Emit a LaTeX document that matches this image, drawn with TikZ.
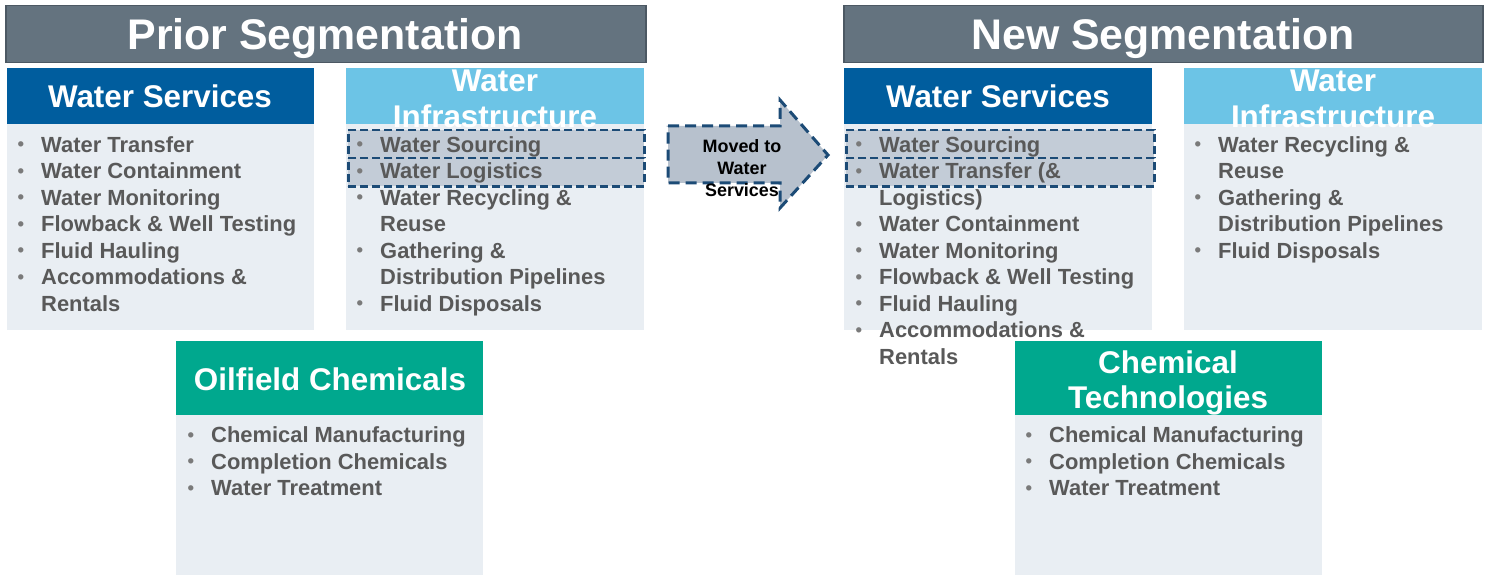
\documentclass[tikz,border=0pt]{standalone}
\usepackage{fontspec}
\setmainfont{Liberation Sans}
\usepackage{graphicx}
\usepackage{tikz}

\definecolor{segGray}{HTML}{64737F}
\definecolor{segEdge}{HTML}{4C5863}
\definecolor{wsBlue}{HTML}{005D9E}
\definecolor{wiBlue}{HTML}{6CC4E6}
\definecolor{chemTeal}{HTML}{00A88E}
\definecolor{bodyGray}{HTML}{E9EEF3}
\definecolor{itemGray}{HTML}{595959}
\definecolor{bulletGray}{HTML}{7A7A7A}
\definecolor{moveFill}{HTML}{C3CCD7}
\definecolor{arrowFill}{HTML}{B7C1CD}
\definecolor{moveEdge}{HTML}{1C4B76}

\newcommand{\segitem}{\makebox[24bp][l]{\hspace*{0.5bp}\textcolor{bulletGray}{\raisebox{1.2bp}{\scalebox{0.85}{•}}}}}
\newcommand{\segcont}{\hspace*{24bp}}

\begin{document}
\begin{tikzpicture}[x=1bp,y=-1bp,
  seg/.style={draw=segEdge,line width=1.5bp,fill=segGray,anchor=north west,inner sep=0pt,minimum height=57bp},
  segtitle/.style={text=white,font=\fontsize{43}{43}\selectfont\bfseries,anchor=base},
  head/.style={anchor=north west,inner sep=0pt,minimum width=307bp,minimum height=56bp},
  headtitle/.style={text=white,font=\fontsize{31.5}{36}\selectfont\bfseries,align=center},
  panel/.style={fill=bodyGray,anchor=north west,inner sep=0pt,minimum width=307bp,minimum height=206bp},
  moved/.style={draw=moveEdge,fill=moveFill,line width=2.5bp,dash pattern=on 8bp off 4bp,anchor=north west,inner sep=0pt,minimum height=28bp},
  items/.style={anchor=north west,inner sep=0pt,align=left,text=itemGray,font=\fontsize{22}{26.6}\selectfont\bfseries}]
  \useasboundingbox (0,0) rectangle (1488,575);

  % prior segmentation
  \node[seg,minimum width=640bp] (prior) at (5,5) {};
  \node[segtitle] (priortitle) at (325,50) {Prior Segmentation};

  \node[panel] (ws1body) at (7,124) {};
  \node[head,fill=wsBlue] (ws1) at (7,68) {};
  \node[headtitle,anchor=base] (ws1title) at (160,108) {Water Services};
  \node[items] (ws1list) at (17,133.4) {\strut\segitem Water Transfer\\
    \segitem Water Containment\\
    \segitem Water Monitoring\\
    \segitem Flowback \& Well Testing\\
    \segitem Fluid Hauling\\
    \segitem Accommodations \&\\
    \segcont Rentals};

  \node[panel,minimum width=298bp] (wi1body) at (346,124) {};
  \node[moved,minimum width=296bp] (source1) at (347,129) {};
  \node[moved,minimum width=296bp] (logist1) at (347,157) {};
  \node[head,fill=wiBlue,minimum width=298bp] (wi1) at (346,68) {};
  \node[headtitle] (wi1title) at (495,98.5) {Water\\Infrastructure};
  \node[items] (wi1list) at (356,133.4) {\strut\segitem Water Sourcing\\
    \segitem Water Logistics\\
    \segitem Water Recycling \&\\
    \segcont Reuse\\
    \segitem Gathering \&\\
    \segcont Distribution Pipelines\\
    \segitem Fluid Disposals};

  \node[panel,minimum height=160bp] (oc1body) at (176,415) {};
  \node[head,fill=chemTeal,minimum height=74bp] (oc1) at (176,341) {};
  \node[headtitle,anchor=base] (oc1title) at (330,390) {Oilfield Chemicals};
  \node[items] (oc1list) at (187,423.9) {\strut\segitem Chemical Manufacturing\\
    \segitem Completion Chemicals\\
    \segitem Water Treatment};

  % moved arrow
  \draw[draw=moveEdge,fill=arrowFill,line width=3bp,dash pattern=on 11bp off 6bp]
    (668,126) -- (780,126) -- (780,100) -- (828,155) -- (780,208) -- (780,183) -- (668,183) -- cycle;
  \node[align=center,font=\fontsize{18}{22}\selectfont\bfseries] (movedtext) at (742,168) {Moved to\\Water\\Services};

  % new segmentation
  \node[seg,minimum width=639bp] (new) at (843,5) {};
  \node[segtitle] (newtitle) at (1163,50) {New Segmentation};

  \node[panel,minimum width=308bp] (ws2body) at (844,124) {};
  \node[moved,minimum width=308bp] (source2) at (845,129) {};
  \node[moved,minimum width=308bp] (logist2) at (845,157) {};
  \node[head,fill=wsBlue,minimum width=308bp] (ws2) at (844,68) {};
  \node[headtitle,anchor=base] (ws2title) at (998,108) {Water Services};

  \node[panel,minimum width=298bp] (wi2body) at (1184,124) {};
  \node[head,fill=wiBlue,minimum width=298bp] (wi2) at (1184,68) {};
  \node[headtitle] (wi2title) at (1333,98.5) {Water\\Infrastructure};
  \node[items] (wi2list) at (1194,133.4) {\strut\segitem Water Recycling \&\\
    \segcont Reuse\\
    \segitem Gathering \&\\
    \segcont Distribution Pipelines\\
    \segitem Fluid Disposals};

  \node[panel,minimum height=160bp] (ct2body) at (1015,415) {};
  \node[head,fill=chemTeal,minimum height=74bp] (ct2) at (1015,341) {};
  \node[headtitle] (ct2title) at (1168,383) {Chemical\\Technologies};
  \node[items] (ct2list) at (1025,423.9) {\strut\segitem Chemical Manufacturing\\
    \segitem Completion Chemicals\\
    \segitem Water Treatment};

  \node[items] (ws2list) at (855,133.4) {\strut\segitem Water Sourcing\\
    \segitem Water Transfer (\&\\
    \segcont Logistics)\\
    \segitem Water Containment\\
    \segitem Water Monitoring\\
    \segitem Flowback \& Well Testing\\
    \segitem Fluid Hauling\\
    \segitem Accommodations \&\\
    \segcont Rentals};
\end{tikzpicture}
\end{document}
